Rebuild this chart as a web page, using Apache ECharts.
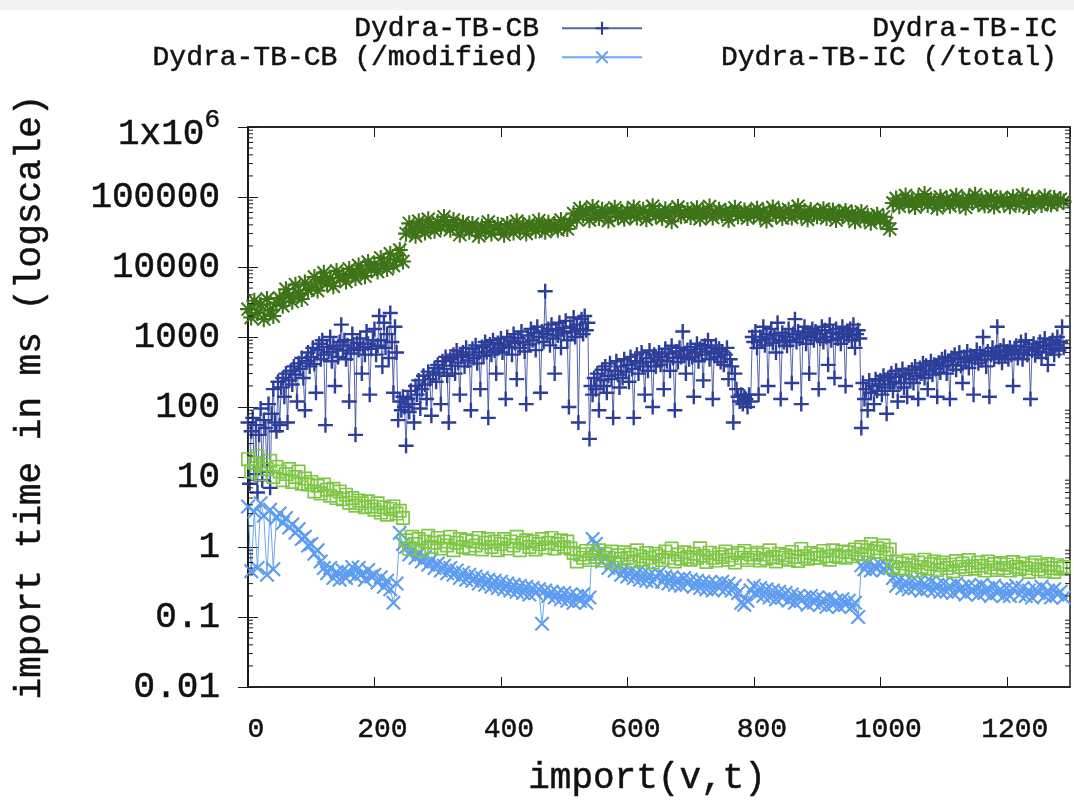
<!DOCTYPE html>
<html>
<head>
<meta charset="utf-8">
<title>import time per import(v,t)</title>
<script src="https://cdn.jsdelivr.net/npm/echarts@6/dist/echarts.min.js"></script>
<style>
  html, body { margin: 0; padding: 0; background: #ffffff; }
  #chart { width: 1074px; height: 805px; }
</style>
</head>
<body>
<div id="chart"></div>
<script>
// Sample spacing in imports: CB timings every 2.5 imports, the others every 5.
const CB_STEP = 2.5;
const STEP = 5;

const seriesNames = [
  'Dydra-TB-CB',
  'Dydra-TB-CB (/modified)',
  'Dydra-TB-IC',
  'Dydra-TB-IC (/total)'
];

// Dydra-TB-CB: import time in ms (one row = 50 imports)
const cbTimes = [
  60, 8, 45, 70, 11, 55, 6, 40, 95, 9, 65, 50, 12, 110, 7, 80, 180, 60, 45, 230,
  55, 190, 260, 140, 300, 60, 240, 330, 210, 380, 290, 120, 420, 350, 500, 260, 90, 450, 600, 380,
  520, 700, 410, 160, 650, 800, 480, 900, 560, 55, 720, 610, 1000, 450, 750, 200, 680, 520, 850, 1500,
  640, 900, 480, 760, 120, 580, 1100, 700, 40, 820, 650, 950, 300, 720, 560, 1200, 800, 150, 680, 900,
  1300, 560, 750, 2000, 900, 380, 1600, 700, 1100, 500, 2200, 850, 160, 1400, 600, 65, 120, 90, 140, 100,
  28, 130, 85, 170, 110, 60, 200, 150, 240, 95, 180, 280, 210, 130, 320, 250, 75, 290, 360, 230,
  400, 310, 110, 450, 350, 520, 280, 60, 480, 390, 560, 300, 640, 430, 150, 520, 600, 380, 700, 460,
  550, 90, 680, 500, 760, 420, 600, 180, 720, 540, 850, 610, 70, 780, 560, 900, 640, 300, 820, 700,
  950, 600, 780, 130, 1000, 720, 880, 560, 1100, 820, 250, 960, 700, 1200, 850, 620, 110, 1050, 780, 1300,
  900, 1150, 650, 1400, 1000, 160, 1200, 850, 4500, 1100, 1300, 760, 1500, 950, 300, 1250, 1050, 1600, 700, 1350,
  1150, 1700, 900, 100, 1400, 1200, 1900, 1000, 1500, 60, 1300, 1800, 1100, 2000, 1250, 1600, 35, 200, 150, 260,
  180, 300, 90, 240, 340, 200, 380, 160, 280, 420, 250, 70, 330, 450, 290, 190, 380, 260, 480, 320,
  400, 230, 520, 350, 70, 450, 560, 300, 420, 600, 380, 150, 500, 330, 640, 440, 100, 560, 380, 470,
  600, 400, 520, 180, 680, 450, 580, 330, 750, 500, 90, 620, 440, 700, 520, 1200, 560, 300, 650, 480,
  720, 520, 140, 600, 800, 450, 680, 560, 240, 750, 620, 900, 480, 700, 130, 580, 760, 520, 680, 440,
  620, 400, 560, 700, 250, 480, 380, 60, 300, 180, 140, 120, 150, 110, 140, 130, 100, 150, 120, 1000,
  850, 1200, 700, 150, 1000, 900, 1400, 760, 1100, 200, 950, 1300, 820, 1050, 600, 1600, 900, 130, 1150, 850,
  1000, 750, 1300, 900, 220, 1100, 1800, 850, 1200, 950, 110, 1050, 1400, 800, 1150, 300, 1000, 1300, 900, 1200,
  1100, 180, 950, 1400, 850, 1250, 1000, 400, 1500, 900, 1150, 260, 1300, 950, 1100, 800, 1400, 1000, 200, 1200,
  1050, 1300, 900, 1500, 700, 1100, 1250, 950, 50, 220, 130, 180, 90, 240, 160, 200, 110, 250, 170, 210,
  240, 150, 280, 190, 80, 260, 210, 300, 170, 230, 330, 120, 270, 220, 350, 190, 290, 140, 310, 250,
  340, 220, 380, 280, 130, 360, 300, 420, 260, 390, 180, 330, 450, 290, 400, 350, 140, 430, 310, 480,
  380, 520, 300, 450, 130, 500, 400, 560, 340, 480, 600, 390, 220, 520, 440, 620, 360, 540, 470, 150,
  500, 650, 420, 580, 470, 1000, 540, 380, 620, 140, 560, 700, 480, 600, 1400, 520, 640, 430, 750, 550,
  620, 480, 700, 560, 200, 650, 750, 500, 600, 850, 480, 660, 900, 560, 720, 130, 640, 800, 550, 700,
  620, 850, 500, 750, 950, 600, 400, 800, 680, 900, 560, 760, 1000, 640, 850, 1400, 700
];

// Dydra-TB-CB (/modified): import time in ms per modified statement
const cbModified = [
  3.8, 0.45, 3.2, 0.5, 4.2, 2.8, 0.4, 3.4, 0.48, 2.6,
  3.0, 2.2, 2.6, 1.9, 2.1, 1.6, 1.8, 1.3, 1.4, 1.05,
  1.1, 0.8, 0.9, 0.62, 0.5, 0.42, 0.5, 0.36, 0.44, 0.34,
  0.46, 0.36, 0.42, 0.52, 0.38, 0.5, 0.41, 0.34, 0.47, 0.38,
  0.4, 0.31, 0.37, 0.27, 0.33, 0.25, 0.16, 0.3, 1.6, 1.1,
  1.0, 0.78, 0.9, 0.7, 0.8, 0.62, 0.72, 0.56, 0.65, 0.5,
  0.58, 0.46, 0.54, 0.42, 0.5, 0.4, 0.46, 0.36, 0.43, 0.34,
  0.4, 0.33, 0.38, 0.3, 0.36, 0.29, 0.34, 0.27, 0.33, 0.26,
  0.32, 0.25, 0.3, 0.24, 0.29, 0.23, 0.28, 0.22, 0.27, 0.21,
  0.26, 0.22, 0.25, 0.08, 0.24, 0.2, 0.23, 0.19, 0.22, 0.18,
  0.22, 0.17, 0.21, 0.16, 0.2, 0.17, 0.21, 0.16, 0.19, 1.3,
  1.1, 0.8, 0.62, 0.72, 0.5, 0.6, 0.46, 0.52, 0.4, 0.48,
  0.38, 0.46, 0.36, 0.43, 0.34, 0.42, 0.33, 0.4, 0.32, 0.38,
  0.42, 0.32, 0.38, 0.3, 0.37, 0.29, 0.35, 0.28, 0.36, 0.3,
  0.34, 0.27, 0.33, 0.26, 0.32, 0.25, 0.31, 0.24, 0.3, 0.26,
  0.32, 0.25, 0.3, 0.24, 0.28, 0.22, 0.16, 0.15, 0.17, 0.24,
  0.28, 0.21, 0.26, 0.2, 0.25, 0.19, 0.24, 0.18, 0.23, 0.19,
  0.22, 0.17, 0.21, 0.16, 0.2, 0.17, 0.19, 0.15, 0.2, 0.16,
  0.19, 0.15, 0.18, 0.14, 0.19, 0.15, 0.17, 0.14, 0.18, 0.15,
  0.17, 0.14, 0.16, 0.1, 0.55, 0.48, 0.58, 0.46, 0.53, 0.5,
  0.56, 0.47, 0.54, 0.5, 0.36, 0.28, 0.34, 0.26, 0.32, 0.25,
  0.33, 0.26, 0.31, 0.24, 0.3, 0.25, 0.32, 0.24, 0.29, 0.23,
  0.3, 0.23, 0.28, 0.22, 0.3, 0.24, 0.27, 0.21, 0.28, 0.23,
  0.27, 0.21, 0.29, 0.22, 0.26, 0.2, 0.28, 0.22, 0.25, 0.2,
  0.26, 0.2, 0.25, 0.28, 0.21, 0.26, 0.2, 0.24, 0.19, 0.25,
  0.22, 0.27, 0.2, 0.24, 0.19, 0.25, 0.21, 0.23, 0.19
];

// Dydra-TB-IC: import time in ms
const icTimes = [
  2500, 1900, 3300, 2200, 2900, 1800, 3500, 2400, 2000, 3100,
  3600, 2800, 4800, 3900, 3200, 5600, 4200, 3500, 6000, 4700,
  5200, 7200, 4600, 6400, 8300, 5800, 7000, 5300, 8800, 6900,
  7600, 6200, 9400, 8000, 6900, 10500, 8600, 7400, 11800, 9200,
  10800, 8600, 13500, 11200, 9400, 15500, 10500, 12800, 17500, 12000,
  30000, 42000, 34000, 28000, 45000, 36000, 31000, 48000, 38000, 33000,
  44000, 37000, 52000, 40000, 34000, 47000, 39000, 29000, 43000, 36000,
  32000, 41000, 35000, 28000, 38000, 33000, 44000, 30000, 36000, 40000,
  34000, 29000, 41000, 37000, 31000, 45000, 35000, 39000, 30000, 42000,
  37000, 33000, 46000, 38000, 32000, 43000, 36000, 40000, 34000, 47000,
  39000, 35000, 43000, 58000, 48000, 68000, 55000, 62000, 47000, 72000,
  56000, 50000, 66000, 59000, 46000, 63000, 70000, 52000, 60000, 49000,
  64000, 55000, 71000, 51000, 60000, 66000, 48000, 58000, 74000, 54000,
  61000, 50000, 67000, 57000, 45000, 63000, 72000, 53000, 59000, 65000,
  52000, 60000, 69000, 49000, 62000, 56000, 73000, 51000, 58000, 66000,
  55000, 63000, 47000, 60000, 70000, 53000, 58000, 64000, 50000, 61000,
  57000, 68000, 52000, 62000, 46000, 59000, 71000, 55000, 63000, 50000,
  60000, 66000, 51000, 58000, 74000, 54000, 62000, 48000, 65000, 57000,
  53000, 61000, 67000, 50000, 58000, 64000, 47000, 60000, 55000, 63000,
  51000, 58000, 45000, 55000, 61000, 48000, 53000, 43000, 50000, 56000,
  46000, 52000, 42000, 35000, 82000, 95000, 74000, 88000, 105000, 79000,
  90000, 72000, 98000, 84000, 110000, 77000, 92000, 86000, 70000, 100000,
  81000, 94000, 75000, 88000, 104000, 79000, 91000, 71000, 97000, 85000,
  108000, 80000, 93000, 76000, 89000, 101000, 73000, 87000, 96000, 82000,
  92000, 74000, 99000, 84000, 78000, 106000, 88000, 72000, 95000, 83000,
  90000, 77000, 102000, 85000, 79000, 97000, 81000, 93000, 86000
];

// Dydra-TB-IC (/total): import time in ms per total statement
const icTotal = [
  18, 12, 16, 20, 11, 15, 13, 17, 10, 14,
  12, 9, 11, 13, 8.5, 10, 12, 8, 9.5, 7.8,
  8.5, 6.2, 7.5, 5.8, 7.8, 6.6, 5.4, 6.8, 5, 6.2,
  4.8, 5.6, 4.3, 5, 3.9, 4.6, 4.2, 3.7, 4.5, 3.8,
  3.4, 4.2, 3.1, 3.7, 2.9, 3.5, 3.8, 3.0, 3.3, 2.6,
  1.25, 0.95, 1.4, 1.1, 1.3, 0.9, 1.2, 1.45, 1.0, 1.15,
  1.35, 0.95, 1.2, 1.05, 1.4, 0.9, 1.15, 1.3, 1.0, 1.25,
  0.95, 1.2, 1.05, 1.35, 0.92, 1.15, 1.3, 1.0, 1.2, 0.9,
  1.1, 1.3, 0.95, 1.2, 1.05, 1.4, 0.9, 1.15, 1.25, 1.0,
  1.2, 0.92, 1.1, 1.3, 0.98, 1.15, 1.35, 0.95, 1.1, 1.25,
  1.0, 1.2, 0.95, 0.82, 0.62, 0.78, 0.7, 0.88, 0.65, 0.8,
  0.72, 0.9, 0.64, 0.8, 0.7, 0.86, 0.6, 0.76, 0.68, 0.84,
  0.7, 0.78, 0.62, 0.9, 0.74, 0.66, 0.82, 0.7, 0.6, 0.8,
  0.74, 0.65, 0.86, 0.7, 0.95, 0.62, 0.78, 0.68, 0.84, 0.72,
  0.66, 0.8, 0.7, 0.96, 0.75, 0.61, 0.83, 0.7, 0.64, 0.79,
  0.72, 0.86, 0.66, 0.76, 0.6, 0.82, 0.7, 0.88, 0.65, 0.78,
  0.7, 0.83, 0.64, 0.78, 0.68, 0.9, 0.72, 0.62, 0.8, 0.7,
  0.76, 0.66, 0.85, 0.72, 0.63, 0.94, 0.74, 0.68, 0.82, 0.7,
  0.78, 0.7, 0.88, 0.74, 0.66, 0.9, 0.76, 0.72, 0.86, 0.7,
  0.84, 0.74, 0.92, 0.8, 1.0, 0.78, 0.9, 1.1, 0.85, 0.96,
  0.86, 1.05, 0.8, 0.92, 0.52, 0.62, 0.48, 0.58, 0.5, 0.64,
  0.55, 0.46, 0.6, 0.52, 0.66, 0.49, 0.57, 0.62, 0.47, 0.55,
  0.6, 0.5, 0.56, 0.45, 0.63, 0.52, 0.58, 0.48, 0.65, 0.53,
  0.49, 0.6, 0.54, 0.46, 0.62, 0.51, 0.57, 0.47, 0.59, 0.5,
  0.56, 0.46, 0.61, 0.52, 0.48, 0.58, 0.5, 0.44, 0.55, 0.6,
  0.48, 0.54, 0.45, 0.57, 0.5, 0.44, 0.55, 0.49, 0.52
];

// Axis ranges and tick labels
const X_MIN = 0, X_MAX = 1300, X_INTERVAL = 200;
const Y_MIN = 0.01, Y_MAX = 1e6;
const yTickLabels = ['0.01', '0.1', '1', '10', '100', '1000', '10000', '100000', '1x10^6'];

// Log minor tick positions (2..9 within each decade)
const yMinorTicks = [];
for (let e = -2; e < 6; e++) {
  for (let m = 2; m <= 9; m++) yMinorTicks.push(m * Math.pow(10, e));
}

const colors = ['#2c3e9a', '#5e9cf0', '#3f7318', '#7fc646'];

// Point shapes (10x10 boxes): plus, cross, star, open square
const SYM_PLUS = 'path://M4.2,0H5.8V4.2H10V5.8H5.8V10H4.2V5.8H0V4.2H4.2Z';
const SYM_CROSS = 'path://M0,1L1,0L5,4L9,0L10,1L6,5L10,9L9,10L5,6L1,10L0,9L4,5Z';
const SYM_STAR = 'path://M4.35,0H5.65V4.35H10V5.65H5.65V10H4.35V5.65H0V4.35H4.35Z' +
                 'M0.5,1.4L1.4,0.5L5,4.1L8.6,0.5L9.5,1.4L5.9,5L9.5,8.6L8.6,9.5L5,5.9L1.4,9.5L0.5,8.6L4.1,5Z';
const SYM_SQUARE = 'path://M0,0H10V10H0ZM1.2,1.2V8.8H8.8V1.2Z';

const FONT = "'Liberation Mono', 'DejaVu Sans Mono', monospace";
const TEXT = { fontFamily: FONT, color: '#111', textBorderColor: '#111', textBorderWidth: 0.5 };

const toPoints = (vals, step) => vals.map((v, i) => [i * step, v]);

function lineSeries(k, values, step, symbol, size, lineWidth, lineOpacity) {
  return {
    name: seriesNames[k],
    type: 'line',
    data: toPoints(values, step),
    symbol: symbol,
    symbolSize: size,
    showSymbol: true,
    showAllSymbol: true,
    lineStyle: { color: colors[k], width: lineWidth, opacity: lineOpacity },
    itemStyle: { color: colors[k] },
    emphasis: { disabled: true },
    silent: true,
    animation: false
  };
}

// Legend: two columns of right-aligned text with the sample to the right
const legendRight = [431, 431, -87, -87];
const legendTop = [14, 43, 14, 43];

const chart = echarts.init(document.getElementById('chart'), null, { renderer: 'canvas' });

chart.setOption({
  backgroundColor: '#ffffff',
  animation: false,
  graphic: [{
    type: 'rect', left: 0, top: 0, z: -10,
    shape: { width: 1074, height: 10 },
    style: { fill: '#f2f2f2' }
  }],
  legend: seriesNames.map((name, k) => ({
    data: [name],
    orient: 'horizontal',
    align: 'right',
    right: legendRight[k],
    top: legendTop[k],
    padding: 0,
    itemWidth: 80,
    itemHeight: 16,
    selectedMode: false,
    textStyle: Object.assign({ fontSize: 28, padding: [0, 18, 0, 0] }, TEXT)
  })),
  grid: {
    left: 248, right: 4, top: 127, bottom: 118,
    show: true, borderColor: '#1a1a1a', borderWidth: 1.5,
    backgroundColor: 'transparent',
    outerBoundsMode: 'none'
  },
  xAxis: [{
    type: 'value', min: X_MIN, max: X_MAX, interval: X_INTERVAL,
    position: 'bottom',
    name: 'import(v,t)', nameLocation: 'middle', nameGap: 73,
    nameTextStyle: Object.assign({ fontSize: 36, padding: [0, 24, 0, 0] }, TEXT),
    axisLine: { show: true, lineStyle: { color: '#1a1a1a', width: 1.5 } },
    axisTick: { show: true, inside: true, length: 10, lineStyle: { color: '#1a1a1a', width: 1 } },
    axisLabel: Object.assign({
      fontSize: 28, margin: 29, padding: [0, 0, 0, 16], showMaxLabel: false,
      formatter: v => String(v)
    }, TEXT),
    splitLine: { show: false }
  }, {
    type: 'value', min: X_MIN, max: X_MAX, interval: X_INTERVAL,
    position: 'top',
    axisLine: { show: true, lineStyle: { color: '#1a1a1a', width: 1.5 } },
    axisTick: { show: true, inside: true, length: 10, lineStyle: { color: '#1a1a1a', width: 1 } },
    axisLabel: { show: false },
    splitLine: { show: false }
  }],
  yAxis: [{
    type: 'log', logBase: 10, min: Y_MIN, max: Y_MAX, splitNumber: 8,
    position: 'left',
    name: 'import time in ms (logscale)', nameLocation: 'middle', nameGap: 200,
    nameTextStyle: Object.assign({ fontSize: 36, padding: [0, 0, 0, 20] }, TEXT),
    axisLine: { show: true, lineStyle: { color: '#1a1a1a', width: 1.5 } },
    axisTick: { show: true, inside: true, length: 10, lineStyle: { color: '#1a1a1a', width: 1 } },
    axisLabel: Object.assign({
      fontSize: 36, margin: 28,
      formatter: function (v) {
        const idx = Math.round(Math.log10(v)) + 2;
        const label = yTickLabels[idx];
        if (label === undefined) return '';
        if (label.indexOf('^') >= 0) {
          const parts = label.split('^');
          return '{b|' + parts[0] + '}{s|' + parts[1] + '}';
        }
        return label;
      },
      rich: {
        b: Object.assign({ fontSize: 36, padding: [14, 0, 0, 0] }, TEXT),
        s: Object.assign({ fontSize: 26, padding: [0, 0, 14, 0] }, TEXT)
      }
    }, TEXT),
    splitLine: { show: false }
  }, {
    type: 'log', logBase: 10, min: Y_MIN, max: Y_MAX, splitNumber: 8,
    position: 'right',
    axisLine: { show: true, lineStyle: { color: '#1a1a1a', width: 1.5 } },
    axisTick: { show: true, inside: true, length: 10, lineStyle: { color: '#1a1a1a', width: 1 } },
    axisLabel: { show: false },
    splitLine: { show: false }
  }],
  series: [
    lineSeries(0, cbTimes, CB_STEP, SYM_PLUS, 15, 1, 0.8),
    lineSeries(1, cbModified, STEP, SYM_CROSS, 15, 1, 0.9),
    lineSeries(2, icTimes, STEP, SYM_STAR, 16, 1, 0.9),
    lineSeries(3, icTotal, STEP, SYM_SQUARE, 14, 1, 0.9),
    {
      // minor log ticks on the left and right frame
      type: 'custom',
      silent: true,
      animation: false,
      z: 5,
      data: yMinorTicks.map(v => [X_MIN, v]),
      encode: { x: 0, y: 1 },
      renderItem: function (params, api) {
        const v = api.value(1);
        const left = api.coord([X_MIN, v]);
        const right = api.coord([X_MAX, v]);
        const st = { stroke: '#1a1a1a', lineWidth: 1 };
        return {
          type: 'group',
          children: [
            { type: 'line', shape: { x1: left[0], y1: left[1], x2: left[0] + 5, y2: left[1] }, style: st },
            { type: 'line', shape: { x1: right[0] - 5, y1: right[1], x2: right[0], y2: right[1] }, style: st }
          ]
        };
      }
    }
  ]
});
</script>
</body>
</html>
